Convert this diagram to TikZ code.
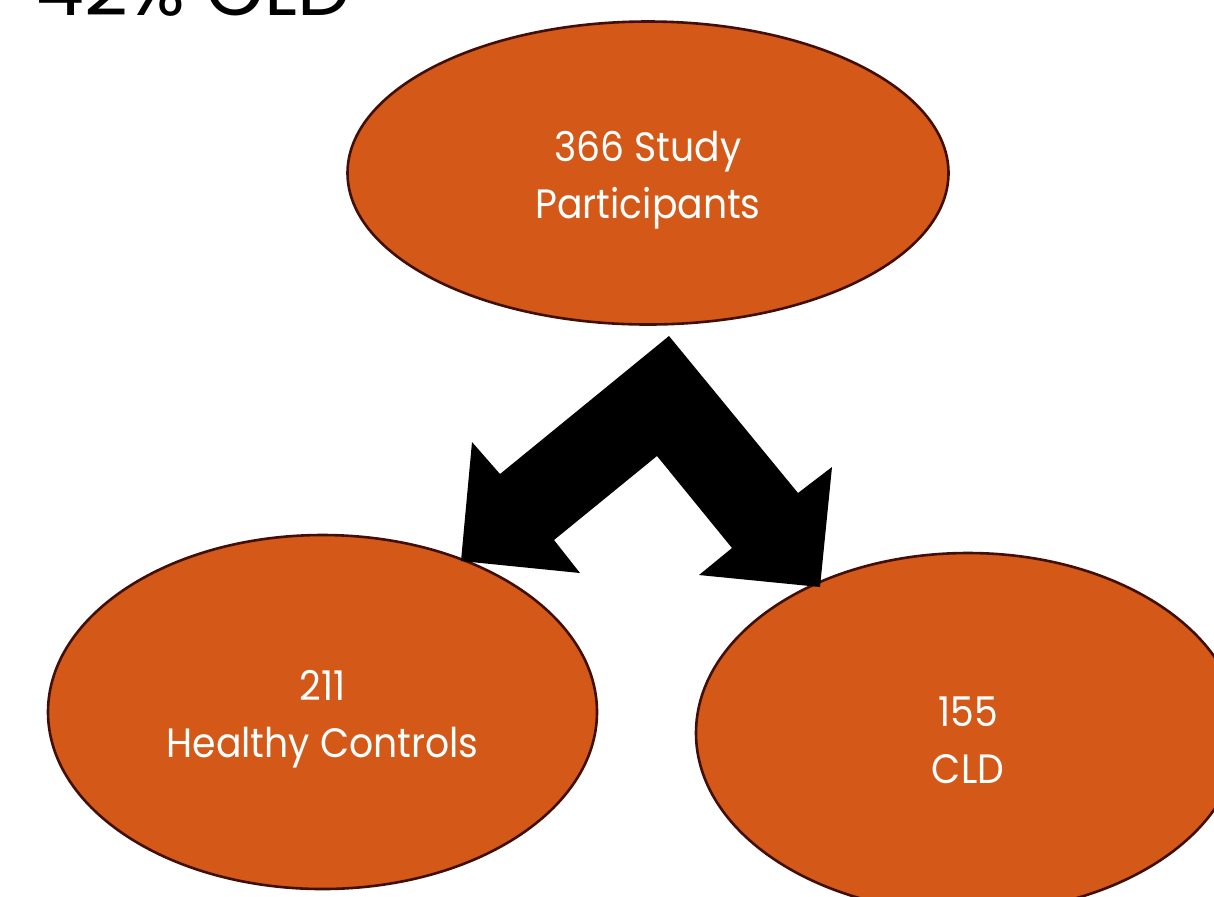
\documentclass[tikz,border=0pt]{standalone}
\usepackage{fontspec}
\setmainfont{Poppins}
\newfontfamily\ovfont[FakeStretch=0.92]{Poppins}
\usetikzlibrary{shapes.geometric}
\definecolor{ovfill}{RGB}{212,88,23}
\definecolor{ovline}{RGB}{65,15,5}
\begin{document}
\begin{tikzpicture}[x=0.5pt,y=-0.5pt,
  oval/.style={ellipse,fill=ovfill,draw=ovline,line width=1.3pt,inner sep=0pt},
  ovtext/.style={text=white,align=center,inner sep=0pt,font=\ovfont\fontsize{20.5}{28.5}\selectfont}]
\useasboundingbox (0,0) rectangle (1214,896);
\clip (0,0) rectangle (1214,896);
\node[oval,minimum width=300.5pt,minimum height=151.5pt] (top) at (648,173) {};
\node[oval,minimum width=274.5pt,minimum height=177pt] (left) at (322.5,712) {};
\node[oval,minimum width=272pt,minimum height=180pt] (right) at (968,733) {};
\node[ovtext] (toplabel) at (648,180) {366 Study\\Participants};
\node[ovtext] (leftlabel) at (322.5,719) {211\\Healthy Controls};
\node[ovtext] (rightlabel) at (968,740) {155\\CLD};
\node[anchor=base west,inner sep=0pt,font=\fontsize{38}{40}\selectfont] (title) at (36,15) {42\% CLD};
\fill[black] (669,336) -- (798,493) -- (832,467) -- (820,587) -- (699,575) -- (732,548)
  -- (657,456) -- (554,540) -- (580,573) -- (461,561) -- (472,442) -- (500,474) -- cycle;
\end{tikzpicture}
\end{document}
